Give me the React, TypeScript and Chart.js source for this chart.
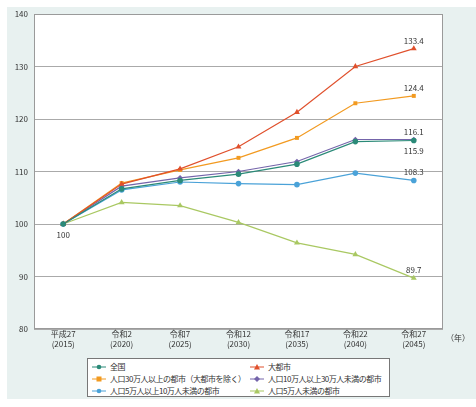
import React, { useEffect, useRef } from "react";
import Chart from "chart.js/auto";

const years = [
  ["平成27", "(2015)"],
  ["令和2", "(2020)"],
  ["令和7", "(2025)"],
  ["令和12", "(2030)"],
  ["令和17", "(2035)"],
  ["令和22", "(2040)"],
  ["令和27", "(2045)"],
];
const zenkoku = [100, 106.7, 108.3, 109.5, 111.4, 115.7, 115.9];
const daitoshi = [100, 107.6, 110.5, 114.7, 121.3, 130.0, 133.4];
const over30 = [100, 107.8, 110.3, 112.6, 116.4, 123.0, 124.4];
const from10to30 = [100, 107.2, 108.8, 110.0, 111.9, 116.1, 116.1];
const from5to10 = [100, 106.5, 108.0, 107.7, 107.5, 109.7, 108.3];
const under5 = [100, 104.1, 103.5, 100.3, 96.4, 94.2, 89.7];

const FONT = "'Noto Sans CJK JP', 'Noto Sans', sans-serif";

const series = [
  { label: "全国", data: zenkoku, color: "#2b8a78", shape: "circle", end: "below" },
  { label: "大都市", data: daitoshi, color: "#e0502c", shape: "triangle", end: "above" },
  { label: "人口30万人以上の都市（大都市を除く）", data: over30, color: "#f29a20", shape: "rect", end: "above" },
  { label: "人口10万人以上30万人未満の都市", data: from10to30, color: "#7464aa", shape: "rectRot", end: "above" },
  { label: "人口5万人以上10万人未満の都市", data: from5to10, color: "#4aa2d8", shape: "circle", end: "above" },
  { label: "人口5万人未満の都市", data: under5, color: "#a9c862", shape: "triangle", end: "above" },
];

const plotPlugin = {
  id: "plotBox",
  beforeDraw(chart) {
    const { ctx, chartArea: a } = chart;
    ctx.save();
    ctx.fillStyle = "#ffffff";
    ctx.fillRect(a.left, a.top, a.right - a.left, a.bottom - a.top);
    ctx.restore();
  },
  afterDraw(chart) {
    const { ctx, chartArea: a } = chart;
    ctx.save();
    ctx.strokeStyle = "#9a9a9a";
    ctx.lineWidth = 1;
    ctx.strokeRect(a.left + 0.5, a.top + 0.5, a.right - a.left - 1, a.bottom - a.top - 1);

    ctx.font = `8px ${FONT}`;
    ctx.fillStyle = "#333";
    ctx.textAlign = "center";
    ctx.textBaseline = "middle";
    ctx.fillText("（年）", a.right + 15, a.bottom + 9);

    // end value labels
    chart.data.datasets.forEach((ds, i) => {
      const meta = chart.getDatasetMeta(i);
      const last = meta.data[meta.data.length - 1];
      const v = ds.data[ds.data.length - 1];
      const dy = series[i].end === "below" ? 10 : -8;
      ctx.fillText(v.toFixed(1), last.x, last.y + dy);
    });
    const first = chart.getDatasetMeta(0).data[0];
    ctx.fillText(String(zenkoku[0]), first.x, first.y + 11);
    ctx.restore();
  },
};

const Marker = ({ color, shape }) => {
  let m;
  if (shape === "circle") m = <circle cx="7" cy="4" r="2.3" fill={color} />;
  else if (shape === "triangle") m = <polygon points="7,1 10,6.5 4,6.5" fill={color} />;
  else if (shape === "rect") m = <rect x="4.5" y="1.5" width="5" height="5" fill={color} />;
  else m = <polygon points="7,1 10,4 7,7 4,4" fill={color} />;
  return (
    <svg width="14" height="8" style={{ marginRight: 4, flex: "none" }}>
      <line x1="0" y1="4" x2="14" y2="4" stroke={color} strokeWidth="1" />
      {m}
    </svg>
  );
};

const App: React.FC<any> = () => {
  const chartRef = useRef(null);
  const chartInstanceRef = useRef(null);

  useEffect(() => {
    if (!chartRef.current) return;
    if (chartInstanceRef.current) chartInstanceRef.current.destroy();

    chartInstanceRef.current = new Chart(chartRef.current, {
      type: "line",
      data: {
        labels: years,
        datasets: series.map((s) => ({
          label: s.label,
          data: s.data,
          borderColor: s.color,
          backgroundColor: s.color,
          borderWidth: 1.2,
          pointStyle: s.shape,
          pointRadius: s.shape === "triangle" ? 3.4 : 2.8,
          pointBorderWidth: 0,
          tension: 0,
        })),
      },
      options: {
        responsive: false,
        animation: false,
        layout: { padding: { top: 14, right: 33, left: 0, bottom: 0 } },
        plugins: { legend: { display: false }, tooltip: { enabled: false } },
        scales: {
          x: {
            offset: true,
            grid: { display: false, drawTicks: false },
            border: { display: false },
            ticks: {
              color: "#333",
              font: { size: 8, family: FONT, lineHeight: 1.25 },
              padding: 0,
              maxRotation: 0,
              autoSkip: false,
            },
            afterFit: (scale) => {
              scale.height = 31;
            },
          },
          y: {
            min: 80,
            max: 140,
            grid: { color: "#aaaaaa", lineWidth: 1, drawTicks: false },
            border: { display: false },
            ticks: {
              stepSize: 10,
              color: "#333",
              font: { size: 8, family: FONT },
              padding: 6,
            },
            afterFit: (scale) => {
              scale.width = 34;
            },
          },
        },
      },
      plugins: [plotPlugin],
    });

    return () => {
      if (chartInstanceRef.current) chartInstanceRef.current.destroy();
    };
  }, []);

  return (
    <div
      style={{
        position: "absolute",
        left: 0,
        top: 0,
        width: 476,
        height: 407,
        fontFamily: FONT,
      }}
    >
      <div
        style={{
          position: "absolute",
          left: 7,
          top: 7,
          width: 469,
          height: 392,
          background: "#e8f1f0",
        }}
      />
      <canvas
        ref={chartRef}
        width={476}
        height={360}
        style={{ position: "absolute", left: 0, top: 0, width: 476, height: 360 }}
      />
      <div
        style={{
          position: "absolute",
          left: 87,
          top: 358,
          width: 303,
          height: 39,
          border: "1px solid #777",
          background: "#fff",
          display: "grid",
          gridTemplateColumns: "158px 143px",
          gridAutoRows: "12px",
          paddingTop: 2,
          boxSizing: "border-box",
          fontSize: 8,
          letterSpacing: "-0.5px",
          color: "#333",
        }}
      >
        {series.map((s) => (
          <div
            key={s.label}
            style={{
              display: "flex",
              alignItems: "center",
              paddingLeft: 4,
              whiteSpace: "nowrap",
              lineHeight: "12px",
            }}
          >
            <Marker color={s.color} shape={s.shape} />
            <span>{s.label}</span>
          </div>
        ))}
      </div>
    </div>
  );
};

export default App;
